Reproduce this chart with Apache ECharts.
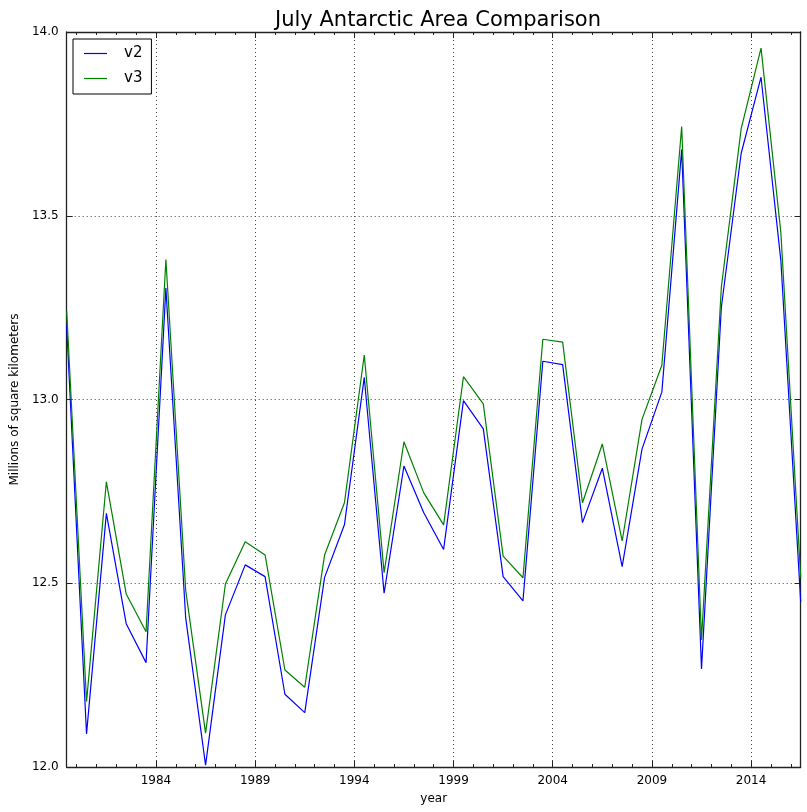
<!DOCTYPE html>
<html>
<head>
<meta charset="utf-8">
<script src="https://cdn.jsdelivr.net/npm/echarts@6/dist/echarts.min.js"></script>
<style>html,body{margin:0;padding:0;background:#fff}#c{width:807px;height:812px}</style>
</head>
<body>
<div id="c"></div>
<script>
const years = [1979,1980,1981,1982,1983,1984,1985,1986,1987,1988,1989,1990,1991,1992,1993,1994,1995,1996,1997,1998,1999,2000,2001,2002,2003,2004,2005,2006,2007,2008,2009,2010,2011,2012,2013,2014,2015,2016];
const v2 = [13.20,12.09,12.69,12.39,12.284,13.303,12.405,12.005,12.414,12.55,12.518,12.198,12.148,12.516,12.659,13.060,12.473,12.819,12.692,12.592,12.997,12.920,12.518,12.452,13.104,13.095,12.665,12.813,12.545,12.865,13.020,13.680,12.267,13.251,13.670,13.877,13.378,12.449];
const v3 = [13.24,12.178,12.776,12.471,12.368,13.381,12.48,12.092,12.498,12.613,12.577,12.264,12.217,12.577,12.719,13.121,12.529,12.885,12.746,12.659,13.062,12.988,12.574,12.515,13.164,13.156,12.719,12.879,12.615,12.946,13.093,13.743,12.346,13.306,13.737,13.956,13.454,12.516];
const majorYearTicks = [1984,1989,1994,1999,2004,2009,2014];
const minorYearTicks = [1980,1981,1982,1983,1984,1985,1986,1987,1988,1989,1990,1991,1992,1993,1994,1995,1996,1997,1998,1999,2000,2001,2002,2003,2004,2005,2006,2007,2008,2009,2010,2011,2012,2013,2014,2015,2016];
const seriesNames = ['v2','v3'];
const yTicks = [12.0, 12.5, 13.0, 13.5, 14.0];

const FONT = 'DejaVu Sans';
const xMin = 1979.5, xMax = 2016.5;
const lineCol = '#222';

function xa(pos, opts) {
  return Object.assign({
    type: 'value', position: pos, min: xMin, max: xMax, gridIndex: 0,
    axisLine: {show: false},
    axisTick: {show: false},
    axisLabel: {show: false},
    splitLine: {show: false}
  }, opts);
}

const chart = echarts.init(document.getElementById('c'), null, {renderer: 'canvas'});
chart.setOption({
  animation: false,
  backgroundColor: '#fff',
  textStyle: {fontFamily: FONT},
  title: {
    text: 'July Antarctic Area Comparison',
    left: 433, textAlign: 'center', top: 5,
    textStyle: {fontFamily: FONT, fontSize: 21, fontWeight: 'normal', color: '#000'}
  },
  grid: {left: 66.7, right: 6.3, top: 32, bottom: 45, containLabel: false},
  legend: {
    orient: 'vertical', left: 73, top: 39,
    data: seriesNames.map(n => ({name: n})),
    icon: 'rect', itemWidth: 23, itemHeight: 1.2, itemGap: 8,
    padding: [6, 9, 7, 11],
    borderColor: '#000', borderWidth: 1, borderRadius: 0,
    backgroundColor: '#fff',
    textStyle: {fontFamily: FONT, fontSize: 15, lineHeight: 17, color: '#000', padding: [0, 0, 0, 12]}
  },
  xAxis: [
    xa('bottom', {
      name: 'year', nameLocation: 'middle', nameGap: 26,
      nameTextStyle: {fontFamily: FONT, fontSize: 12, color: '#000'},
      axisLine: {show: true, lineStyle: {color: lineCol, width: 1.3}},
      axisTick: {show: true, inside: true, length: 6, customValues: majorYearTicks, lineStyle: {color: lineCol}},
      axisLabel: {show: true, customValues: majorYearTicks, margin: 8, fontFamily: FONT, fontSize: 12, color: '#000', formatter: v => String(v)},
      splitLine: {show: true, lineStyle: {color: '#444', width: 1, type: [1, 3]}}
    }),
    xa('bottom', {
      axisTick: {show: true, inside: true, length: 3, customValues: minorYearTicks, lineStyle: {color: lineCol}}
    }),
    xa('top', {
      axisLine: {show: true, lineStyle: {color: lineCol, width: 1.3}},
      axisTick: {show: true, inside: true, length: 6, customValues: majorYearTicks, lineStyle: {color: lineCol}}
    }),
    xa('top', {
      axisTick: {show: true, inside: true, length: 3, customValues: minorYearTicks, lineStyle: {color: lineCol}}
    })
  ],
  yAxis: [
    {
      type: 'value', position: 'left', min: 12, max: 14, interval: 0.5,
      name: 'Millions of square kilometers', nameLocation: 'middle', nameGap: 43,
      nameTextStyle: {fontFamily: FONT, fontSize: 12, color: '#000'},
      axisLine: {show: true, lineStyle: {color: lineCol, width: 1.3}},
      axisTick: {show: true, inside: true, length: 6, customValues: yTicks, lineStyle: {color: lineCol}},
      axisLabel: {show: true, customValues: yTicks, margin: 8, fontFamily: FONT, fontSize: 12, color: '#000', formatter: v => v.toFixed(1)},
      splitLine: {show: true, lineStyle: {color: '#444', width: 1, type: [1, 3]}}
    },
    {
      type: 'value', position: 'right', min: 12, max: 14, interval: 0.5,
      axisLine: {show: true, lineStyle: {color: lineCol, width: 1.3}},
      axisTick: {show: true, inside: true, length: 6, lineStyle: {color: lineCol}},
      axisLabel: {show: false},
      splitLine: {show: false}
    }
  ],
  series: [
    {
      name: seriesNames[0], type: 'line', xAxisIndex: 0, yAxisIndex: 0,
      data: years.map((y, i) => [y + 0.5, v2[i]]),
      showSymbol: false, symbol: 'none',
      lineStyle: {color: '#0000ff', width: 1.2}, itemStyle: {color: '#0000ff'},
      clip: true
    },
    {
      name: seriesNames[1], type: 'line', xAxisIndex: 0, yAxisIndex: 0,
      data: years.map((y, i) => [y + 0.5, v3[i]]),
      showSymbol: false, symbol: 'none',
      lineStyle: {color: '#008000', width: 1.2}, itemStyle: {color: '#008000'},
      clip: true
    }
  ]
});
</script>
</body>
</html>
